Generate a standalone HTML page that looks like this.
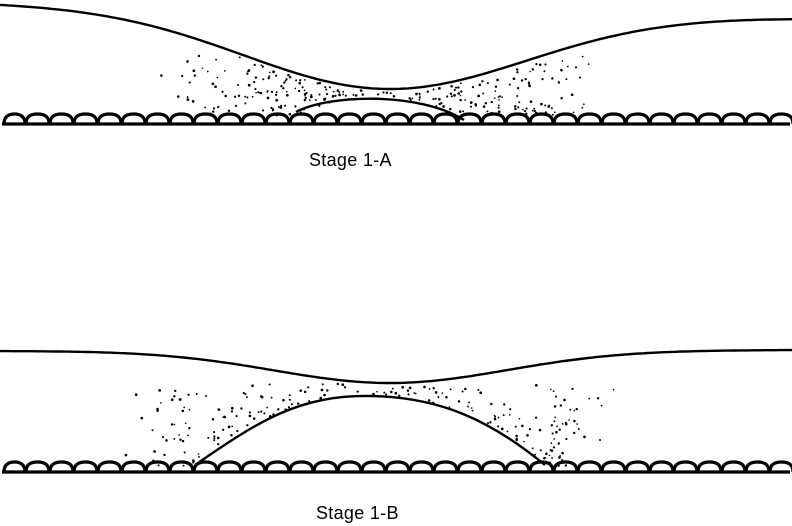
<!DOCTYPE html>
<html><head><meta charset="utf-8"><style>
html,body{margin:0;padding:0;background:#fff;width:792px;height:526px;overflow:hidden}
svg{display:block}
text{font-family:"Liberation Sans",sans-serif;font-size:18px;fill:#000;letter-spacing:0.3px}
</style></head><body>
<svg id="s" width="792" height="526" viewBox="0 0 792 526" xmlns="http://www.w3.org/2000/svg">
<g id="lines" fill="none" stroke="#000" stroke-width="2.4">
<path d="M296,112 C330,94 420,92 464,120"/>
<path d="M195,465 C260,420 300,395 370,396 C440,397 490,420 545,465"/>
</g>
<g id="peb" fill="none" stroke="#000" stroke-width="3.2"></g>
<g id="dots" fill="#000"></g>
<text x="309" y="166">Stage 1-A</text>
<text x="316" y="519">Stage 1-B</text>
</svg>
<script>
var NS="http://www.w3.org/2000/svg";
var peb=document.getElementById("peb"),dots=document.getElementById("dots"),lines=document.getElementById("lines");
function topA(x){var b=3+15*x/792;return b+(89-b)*Math.exp(-Math.pow((x-390)/200,2));}
function topB(x){var b=351-1*x/792;return b+(383-b)*Math.exp(-Math.pow((x-390)/165,2));}
function poly(f){var d="";for(var x=0;x<=792;x+=4){d+=(x?"L":"M")+x+","+f(x).toFixed(1);}var p=document.createElementNS(NS,"path");p.setAttribute("d",d);lines.appendChild(p);}
poly(topA);poly(topB);
function row(y){
 var l=document.createElementNS(NS,"line");l.setAttribute("x1",2);l.setAttribute("x2",790);l.setAttribute("y1",y);l.setAttribute("y2",y);peb.appendChild(l);
 var x=4;
 while(x<785){var w=21+((x*7)%4);var m=x+w/2;var p=document.createElementNS(NS,"path");
 p.setAttribute("d","M"+x+","+y+" C"+x+","+(y-7)+" "+(x+4)+","+(y-10)+" "+m+","+(y-10)+" C"+(x+w-4)+","+(y-10)+" "+(x+w)+","+(y-7)+" "+(x+w)+","+y);peb.appendChild(p);x+=w+1;}
}
row(124);row(472);
var seed=7;function r(){seed=(seed*16807)%2147483647;return seed/2147483647;}
function dot(x,y){var c=document.createElementNS(NS,"circle");c.setAttribute("cx",x);c.setAttribute("cy",y);c.setAttribute("r",0.8+r()*0.6);dots.appendChild(c);}
// Stage A
for(var i=0;i<1400;i++){var x=160+r()*440,y=55+r()*60;var d=Math.abs(x-385)/210;
 if(y<topA(x)+3) continue; if(r()<d*0.9) continue; if(r()<0.35) continue;
 var ins=(x>298&&x<462&&y>97+Math.pow((x-380)/82,2)*20); if(ins) continue; dot(x,y);}
// Stage B
for(var i=0;i<1400;i++){var x=120+r()*500,y=384+r()*82;var d=(x-370)/175;
 if(y<topB(x)+3)continue;
 var dome=396+69*d*d;
 if(Math.abs(d)<1.03 && y>dome-2) continue;
 var dist=Math.abs(y-dome); if(Math.abs(d)>=1.03){dist=Math.abs(x-370)-180;}
 if(r()>Math.exp(-dist/22)) continue; if(y>466)continue; if(r()<0.3)continue; dot(x,y);}
</script>
</body></html>
